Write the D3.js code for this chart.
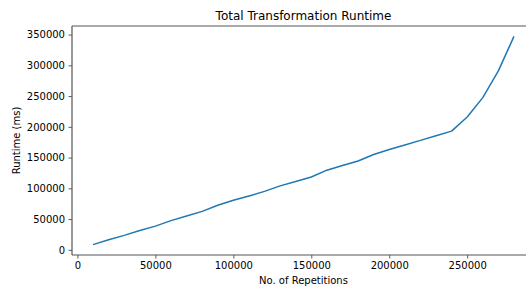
<!DOCTYPE html>
<html><head><meta charset="utf-8">
<script src="https://cdn.jsdelivr.net/npm/d3@7"></script>
<style>body{margin:0;background:#fff}svg{display:block}text{font-family:"DejaVu Sans",sans-serif;fill:#000}</style>
</head><body>
<script>
const repetitions = [10000,20000,30000,40000,50000,60000,70000,80000,90000,100000,110000,120000,130000,140000,150000,160000,170000,180000,190000,200000,210000,220000,230000,240000,250000,260000,270000,280000];
const runtimeMs = [8500,16500,23500,31500,38500,47500,55000,62500,72500,80500,87500,95000,104000,111000,118500,129500,137000,144500,155000,163000,170500,178000,185500,193000,216000,247500,291000,347000];
const xTicks = [0,50000,100000,150000,200000,250000];
const yTicks = [0,50000,100000,150000,200000,250000,300000,350000];
const title = "Total Transformation Runtime";
const xLabel = "No. of Repetitions";
const yLabel = "Runtime (ms)";

const W = 526, H = 289;
const L = 72, R = 535, T = 26, B = 255;
const svg = d3.select("body").append("svg").attr("width", W).attr("height", H);

const xmin = d3.min(repetitions), xmax = d3.max(repetitions);
const ymin = d3.min(runtimeMs), ymax = d3.max(runtimeMs);
const xm = (xmax - xmin) * 0.05, ym = (ymax - ymin) * 0.05;
const x = d3.scaleLinear().domain([xmin - xm, xmax + xm]).range([L, R]);
const y = d3.scaleLinear().domain([ymin - ym, ymax + ym]).range([B, T]);

const xAxis = svg.append("g").attr("transform", `translate(0,${B})`)
  .call(d3.axisBottom(x).tickValues(xTicks).tickFormat(d3.format("d")).tickSizeInner(3.5).tickSizeOuter(0).tickPadding(3.5));
const yAxis = svg.append("g").attr("transform", `translate(${L},0)`)
  .call(d3.axisLeft(y).tickValues(yTicks).tickFormat(d3.format("d")).tickSizeInner(3.5).tickSizeOuter(0).tickPadding(3.5));
[xAxis, yAxis].forEach(g => {
  g.select(".domain").remove();
  g.selectAll("line").attr("stroke", "#333").attr("stroke-width", 0.8);
  g.selectAll("text").attr("font-size", 10).attr("font-family", "DejaVu Sans").attr("fill", "#000");
});

// spines
const sp = svg.append("g").attr("stroke", "#555").attr("stroke-width", 1.2).attr("fill", "none");
sp.append("line").attr("x1", L).attr("x2", L).attr("y1", T).attr("y2", B);
sp.append("line").attr("x1", L).attr("x2", R).attr("y1", B).attr("y2", B);
sp.append("line").attr("x1", L).attr("x2", R).attr("y1", T).attr("y2", T);
sp.append("line").attr("x1", R).attr("x2", R).attr("y1", T).attr("y2", B);

const line = d3.line().x((d, i) => x(repetitions[i])).y(d => y(d));
svg.append("path").datum(runtimeMs).attr("d", line)
  .attr("fill", "none").attr("stroke", "#1f77b4").attr("stroke-width", 1.5).attr("stroke-linejoin", "round");

svg.append("text").attr("x", (L + R) / 2).attr("y", 20).attr("text-anchor", "middle").attr("font-size", 12).text(title);
svg.append("text").attr("x", (L + R) / 2).attr("y", 284).attr("text-anchor", "middle").attr("font-size", 10).text(xLabel);
svg.append("text").attr("transform", `translate(20,${(T + B) / 2}) rotate(-90)`).attr("text-anchor", "middle").attr("font-size", 10).text(yLabel);
</script>
</body></html>
